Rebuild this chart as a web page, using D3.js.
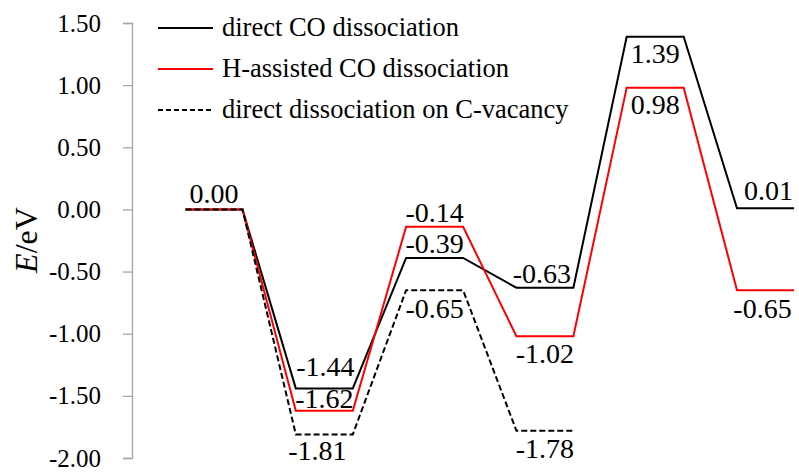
<!DOCTYPE html>
<html>
<head>
<meta charset="utf-8">
<script src="https://cdn.jsdelivr.net/npm/d3@7"></script>
<style>
  html, body { margin: 0; padding: 0; background: #fff; }
  svg text { font-family: "Liberation Serif", "Times New Roman", "DejaVu Serif", serif; }
</style>
</head>
<body>
<svg id="chart" width="799" height="473"></svg>
<script>
// Reaction steps (energy levels) and the energy of each pathway at each step, eV
const steps = [0, 1, 2, 3, 4, 5];
const directCO = [0.00, -1.44, -0.39, -0.63, 1.39, 0.01];
const hAssistedCO = [0.00, -1.62, -0.14, -1.02, 0.98, -0.65];
const cVacancy = [0.00, -1.81, -0.65, -1.78];
const yTicks = [-2.0, -1.5, -1.0, -0.5, 0.0, 0.5, 1.0, 1.5];
const seriesNames = ["direct CO dissociation", "H-assisted CO dissociation", "direct dissociation on C-vacancy"];

const series = [
  { name: seriesNames[0], values: directCO, color: "#000000", dash: null },
  { name: seriesNames[1], values: hAssistedCO, color: "#ff0000", dash: null },
  { name: seriesNames[2], values: cVacancy, color: "#000000", dash: "6,3" }
];

// Where each value label sits relative to its level: [dx, baseline offset]
const labelPlacement = [
  [[0, -6], [1, -12], [0, -5], [-3, -5], [0, 26], [3, -8]],
  [null, [0, -3], [0, -5], [0, 27], [0, 26], [-3, 28]],
  [null, [-7, 26], [0, 28], [0, 27]]
];

const serif = "'Liberation Serif', 'Times New Roman', serif";
const svg = d3.select("#chart");
const fmt = d3.formatLocale({ decimal: ".", thousands: ",", grouping: [3], currency: ["", ""], minus: "-" }).format(".2f");

const y = d3.scaleLinear().domain([-2.0, 1.5]).range([458, 23]);
const x = d3.scaleLinear().domain([0, 5]).range([214, 765.5]);
const halfW = 28.5;

// Y axis
const yAxis = d3.axisLeft(y).tickValues(yTicks).tickFormat(fmt).tickSize(9).tickPadding(22);
const gy = svg.append("g").attr("transform", "translate(132,0)").call(yAxis)
  .attr("font-family", serif).attr("font-size", 25);
gy.select(".domain").attr("stroke", "#a6a6a6").attr("stroke-width", 1.3);
gy.selectAll(".tick line").attr("stroke", "#a6a6a6").attr("stroke-width", 1.3);
gy.selectAll(".tick text").attr("fill", "#000");

// Axis title
svg.append("text")
  .attr("transform", "translate(37,240) rotate(-90)")
  .attr("text-anchor", "middle")
  .attr("font-family", serif)
  .attr("font-size", 32)
  .call(t => {
    t.append("tspan").attr("font-style", "italic").text("E");
    t.append("tspan").text("/eV");
  });

// Energy profile paths: flat level per step joined by straight connectors
function profilePoints(vals) {
  const pts = [];
  vals.forEach((v, i) => {
    pts.push([x(steps[i]) - halfW, y(v)]);
    pts.push([x(steps[i]) + halfW, y(v)]);
  });
  return pts;
}
const line = d3.line();

// Solid black first, then red, with the dashed pathway on top
series.forEach(s => {
  svg.append("path")
    .attr("d", line(profilePoints(s.values)))
    .attr("fill", "none")
    .attr("stroke", s.color)
    .attr("stroke-width", 2)
    .attr("stroke-linejoin", "miter")
    .attr("stroke-dasharray", s.dash);
});

// Value labels
series.forEach((s, si) => {
  s.values.forEach((v, i) => {
    const p = labelPlacement[si][i];
    if (!p) return;
    svg.append("text")
      .attr("x", x(steps[i]) + p[0])
      .attr("y", y(v) + p[1])
      .attr("text-anchor", "middle")
      .attr("font-family", serif)
      .attr("font-size", 28)
      .attr("fill", "#000")
      .text(fmt(v));
  });
});

// Legend
const legend = svg.append("g");
series.forEach((s, i) => {
  const ly = 28 + i * 41;
  legend.append("line")
    .attr("x1", 158).attr("x2", 213).attr("y1", ly).attr("y2", ly)
    .attr("stroke", s.color).attr("stroke-width", 2)
    .attr("stroke-dasharray", i === 2 ? "5,3" : null);
  legend.append("text")
    .attr("x", 222).attr("y", ly + 8)
    .attr("font-family", serif)
    .attr("font-size", 26.5).attr("fill", "#000")
    .text(s.name);
});
</script>
</body>
</html>
